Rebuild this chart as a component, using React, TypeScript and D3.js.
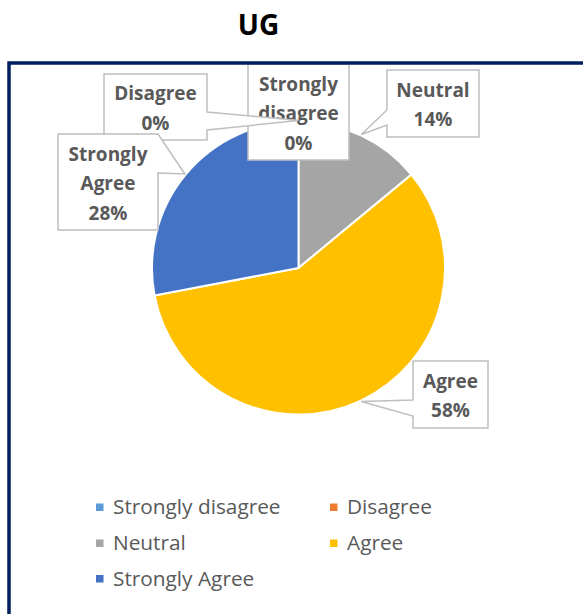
import React, { useRef, useEffect } from 'react';
import * as d3 from 'd3';

// chart data
const categories = ['Strongly disagree', 'Disagree', 'Neutral', 'Agree', 'Strongly Agree'];
const values = [0, 0, 14, 58, 28];
const sliceColors = ['#5B9BD5', '#ED7D31', '#A5A5A5', '#FFC000', '#4472C4'];
const labelLines = [['Strongly', 'disagree'], ['Disagree'], ['Neutral'], ['Agree'], ['Strongly', 'Agree']];

// callout box layout (x0, y0, x1, y1, side the pointer leaves from, pointer base)
const callouts = [
  { x0: 248, y0: 64, x1: 349, y1: 160, side: 'none', b0: 0, b1: 0 },
  { x0: 104, y0: 74, x1: 207, y1: 140, side: 'right', b0: 112, b1: 130 },
  { x0: 387, y0: 70, x1: 479, y1: 137, side: 'left', b0: 110, b1: 125 },
  { x0: 413, y0: 361, x1: 488, y1: 428, side: 'left', b0: 400, b1: 416 },
  { x0: 58, y0: 134, x1: 158, y1: 230, side: 'right', b0: 134, b1: 173 }
];

const W = 583;
const H = 614;

const App: React.FC = () => {
  const ref = useRef<SVGSVGElement>(null);

  useEffect(() => {
    const svg = d3.select(ref.current);
    svg.selectAll('*').remove();
    svg.attr('width', W).attr('height', H);

    const cx = 298.5;
    const cy = 268;
    const r = 146.5;

    svg.append('text')
      .attr('x', 258.5)
      .attr('y', 35)
      .attr('text-anchor', 'middle')
      .attr('font-family', '"Open Sans", sans-serif')
      .attr('font-weight', 'bold')
      .attr('font-size', 28)
      .attr('fill', '#000')
      .text('UG');

    const pie = d3.pie<number>().sort(null).value(d => d);
    const arcs = pie(values);
    const arc = d3.arc<d3.PieArcDatum<number>>().innerRadius(0).outerRadius(r);
    const edge = d3.arc<d3.PieArcDatum<number>>().innerRadius(r + 1).outerRadius(r + 1);

    const g = svg.append('g').attr('transform', `translate(${cx},${cy})`);
    g.selectAll('path')
      .data(arcs)
      .join('path')
      .attr('d', arc)
      .attr('fill', (d, i) => sliceColors[i])
      .attr('stroke', '#fff')
      .attr('stroke-width', d => (d.value > 0 ? 2 : 0));

    // data label callouts
    const lg = svg.append('g');
    arcs.forEach((d, i) => {
      const c = callouts[i];
      const [tx, ty] = edge.centroid(d);
      const px = tx + cx;
      const py = ty + cy;
      let p = '';
      if (c.side === 'right') {
        p = `M${c.x0},${c.y0}H${c.x1}V${c.b0}L${px},${py}L${c.x1},${c.b1}V${c.y1}H${c.x0}Z`;
      } else if (c.side === 'left') {
        p = `M${c.x0},${c.y0}H${c.x1}V${c.y1}H${c.x0}V${c.b1}L${px},${py}L${c.x0},${c.b0}Z`;
      } else {
        p = `M${c.x0},${c.y0}H${c.x1}V${c.y1}H${c.x0}Z`;
      }
      lg.append('path')
        .attr('d', p)
        .attr('fill', '#fff')
        .attr('stroke', '#BFBFBF')
        .attr('stroke-width', 1.5);

      const lines = [...labelLines[i], `${d3.format('.0f')(d.value)}%`];
      const lh = 29.5;
      const mid = (c.y0 + c.y1) / 2 + 1.5;
      const top = mid - ((lines.length - 1) * lh) / 2;
      lines.forEach((t, k) => {
        lg.append('text')
          .attr('x', (c.x0 + c.x1) / 2)
          .attr('y', top + k * lh)
          .attr('dy', '0.35em')
          .attr('text-anchor', 'middle')
          .attr('font-family', '"Open Sans", sans-serif')
          .attr('font-weight', 'bold')
          .attr('font-size', 19)
          .attr('fill', '#595959')
          .text(t);
      });
    });

    // legend
    const colX = [96, 330];
    const rowY = [507, 543, 578.5];
    const leg = svg.append('g');
    categories.forEach((name, i) => {
      const x = colX[i % 2];
      const y = rowY[Math.floor(i / 2)];
      leg.append('rect')
        .attr('x', x)
        .attr('y', y - 3.5)
        .attr('width', 7.5)
        .attr('height', 7.5)
        .attr('fill', sliceColors[i]);
      leg.append('text')
        .attr('x', x + 17)
        .attr('y', y)
        .attr('dy', '0.35em')
        .attr('font-family', '"Open Sans", sans-serif')
        .attr('font-size', 20.8)
        .attr('fill', '#595959')
        .text(name);
    });

    // chart area border (right and bottom fall outside the picture)
    svg.append('path')
      .attr('d', `M9,${H + 5}V63H${W + 5}`)
      .attr('fill', 'none')
      .attr('stroke', '#002060')
      .attr('stroke-width', 3.5);
  }, []);

  return (
    <div style={{ position: 'absolute', left: 0, top: 0, background: '#fff' }}>
      <svg ref={ref} style={{ display: 'block' }}></svg>
    </div>
  );
};

export default App;
